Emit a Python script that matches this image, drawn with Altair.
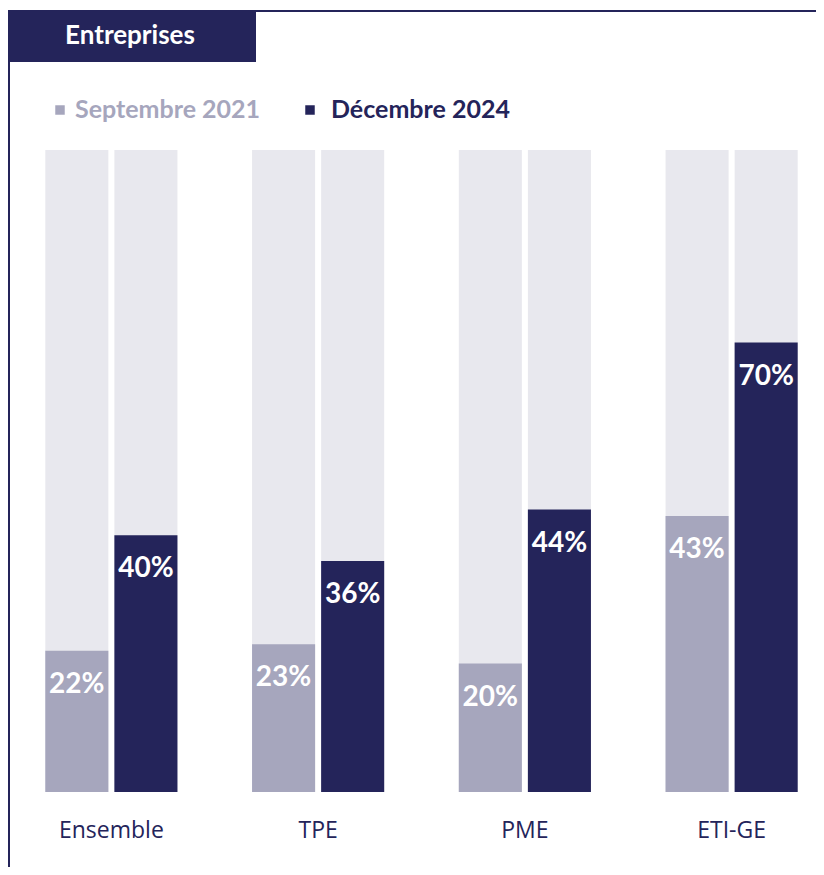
import altair as alt
import pandas as pd

categories = ["Ensemble", "TPE", "PME", "ETI-GE"]
series = ["Septembre 2021", "Décembre 2024"]
sept_2021 = [22, 23, 20, 43]
dec_2024 = [40, 36, 44, 70]
colors = ["#a6a6bd", "#24245a"]
track_color = "#e8e8ee"
navy = "#24245a"
panel_title = "Entreprises"

rows = []
for i, c in enumerate(categories):
    for s, vals in zip(series, [sept_2021, dec_2024]):
        rows.append({"cat": c, "series": s, "value": vals[i] / 100.0, "full": 1.0,
                     "label": f"{vals[i]}%"})
df = pd.DataFrame(rows)

x_enc = alt.X("cat:N", sort=categories,
              scale=alt.Scale(range=[-4, 823], paddingInner=0, paddingOuter=0),
              axis=alt.Axis(title=None, labelAngle=0, domain=False, ticks=False,
                            labelFontSize=23, labelFont="Open Sans", labelColor=navy,
                            labelPadding=27, labelBaseline="top"))
xo_enc = alt.XOffset("series:N", sort=series,
                     scale=alt.Scale(paddingInner=0.087, paddingOuter=0.54))
yscale = alt.Scale(domain=[0, 1])

base = alt.Chart(df)
track = base.mark_bar(color=track_color).encode(
    x=x_enc, xOffset=xo_enc, y=alt.Y("full:Q", scale=yscale, axis=None))
bars = base.mark_bar().encode(
    x=x_enc, xOffset=xo_enc, y=alt.Y("value:Q", scale=yscale, axis=None),
    color=alt.Color("series:N", scale=alt.Scale(domain=series, range=colors), legend=None))
labels = base.mark_text(font="Lato", fontSize=28, fontWeight="bold", color="white",
                        baseline="alphabetic", dy=42).encode(
    x=x_enc, xOffset=xo_enc, y=alt.Y("value:Q", scale=yscale, axis=None),
    text="label:N")

one = pd.DataFrame({"k": [0]})
frame_top = alt.Chart(one).mark_rule(color=navy, strokeWidth=2).encode(
    x=alt.value(-8), x2=alt.value(804), y=alt.value(-139))
frame_left = alt.Chart(one).mark_rule(color=navy, strokeWidth=2).encode(
    x=alt.value(-3), y=alt.value(-140), y2=alt.value(720))
title_box = alt.Chart(one).mark_rect(color=navy).encode(
    x=alt.value(-8), x2=alt.value(244), y=alt.value(-140), y2=alt.value(-88))
title_txt = alt.Chart(pd.DataFrame({"t": [panel_title]})).mark_text(
    font="Lato", fontSize=26, fontWeight="bold", color="white", align="center",
    baseline="middle").encode(x=alt.value(118), y=alt.value(-114), text="t:N")

leg_df = pd.DataFrame({"series": series})
legend_layers = []
for s, col, sx, tx in zip(series, colors, [48, 298], [63, 319]):
    d = leg_df[leg_df["series"] == s]
    legend_layers.append(alt.Chart(d).mark_square(color=col, size=90, opacity=1).encode(
        x=alt.value(sx), y=alt.value(-40)))
    legend_layers.append(alt.Chart(d).mark_text(
        font="Lato", fontSize=25, fontWeight="bold", color=col, align="left",
        baseline="middle").encode(x=alt.value(tx), y=alt.value(-40), text="series:N"))

chart = alt.layer(track, bars, labels, frame_top, frame_left, title_box, title_txt,
                  *legend_layers).properties(
    width=804, height=642,
    autosize=alt.AutoSizeParams(type="none"),
    padding={"left": 4, "top": 142, "right": 0, "bottom": 75},
).configure_view(stroke=None)

chart.save("out.html", embed_options={"renderer": "svg", "actions": False})
